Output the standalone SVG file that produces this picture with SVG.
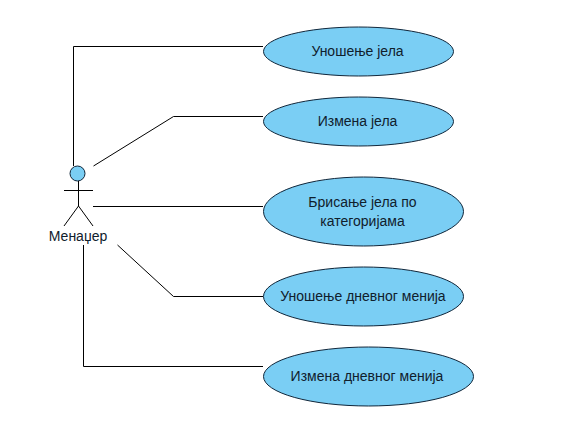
<svg xmlns="http://www.w3.org/2000/svg" width="572" height="437" viewBox="0 0 572 437">
<style>
.uc{fill:#7acef4;stroke:#10263a;stroke-width:1}
.l{fill:none;stroke:#000;stroke-width:1}
text{font-family:"Liberation Sans",Arial,sans-serif;font-size:14px;fill:#10202c;text-anchor:middle}
</style>
<rect width="572" height="437" fill="#fff"/>
<g id="connectors" class="l">
<path class="l" d="M73.500 166V46.500H263"/>
<path class="l" d="M93.500 166L173.500 116.500H263"/>
<path class="l" d="M93 206.500H263"/>
<path class="l" d="M117.500 245L173.500 296.500H263"/>
<path class="l" d="M83.500 245V366.500H263"/>
</g>
<g id="actor">
<circle class="uc" cx="77.500" cy="173.500" r="7.500"/>
<path class="l" d="M78.500 181V206M64 190.500H93M64 226L78.500 206L93 226"/>
<text x="78" y="241">Менаџер</text>
</g>
<g id="uc1"><ellipse class="uc" cx="358.500" cy="51.500" rx="95" ry="24.500"/><text x="357.500" y="56">Уношење јела</text></g>
<g id="uc2"><ellipse class="uc" cx="358.500" cy="121.500" rx="95" ry="24.500"/><text x="357.500" y="126">Измена јела</text></g>
<g id="uc3"><ellipse class="uc" cx="363.500" cy="211.500" rx="100" ry="34.500"/><text x="362.500" y="207">Брисање јела по</text><text x="362.500" y="226">категоријама</text></g>
<g id="uc4"><ellipse class="uc" cx="363.500" cy="296.500" rx="100" ry="29.500"/><text x="363" y="301">Уношење дневног менија</text></g>
<g id="uc5"><ellipse class="uc" cx="368.500" cy="376.500" rx="105" ry="29.500"/><text x="367" y="381">Измена дневног менија</text></g>
</svg>
